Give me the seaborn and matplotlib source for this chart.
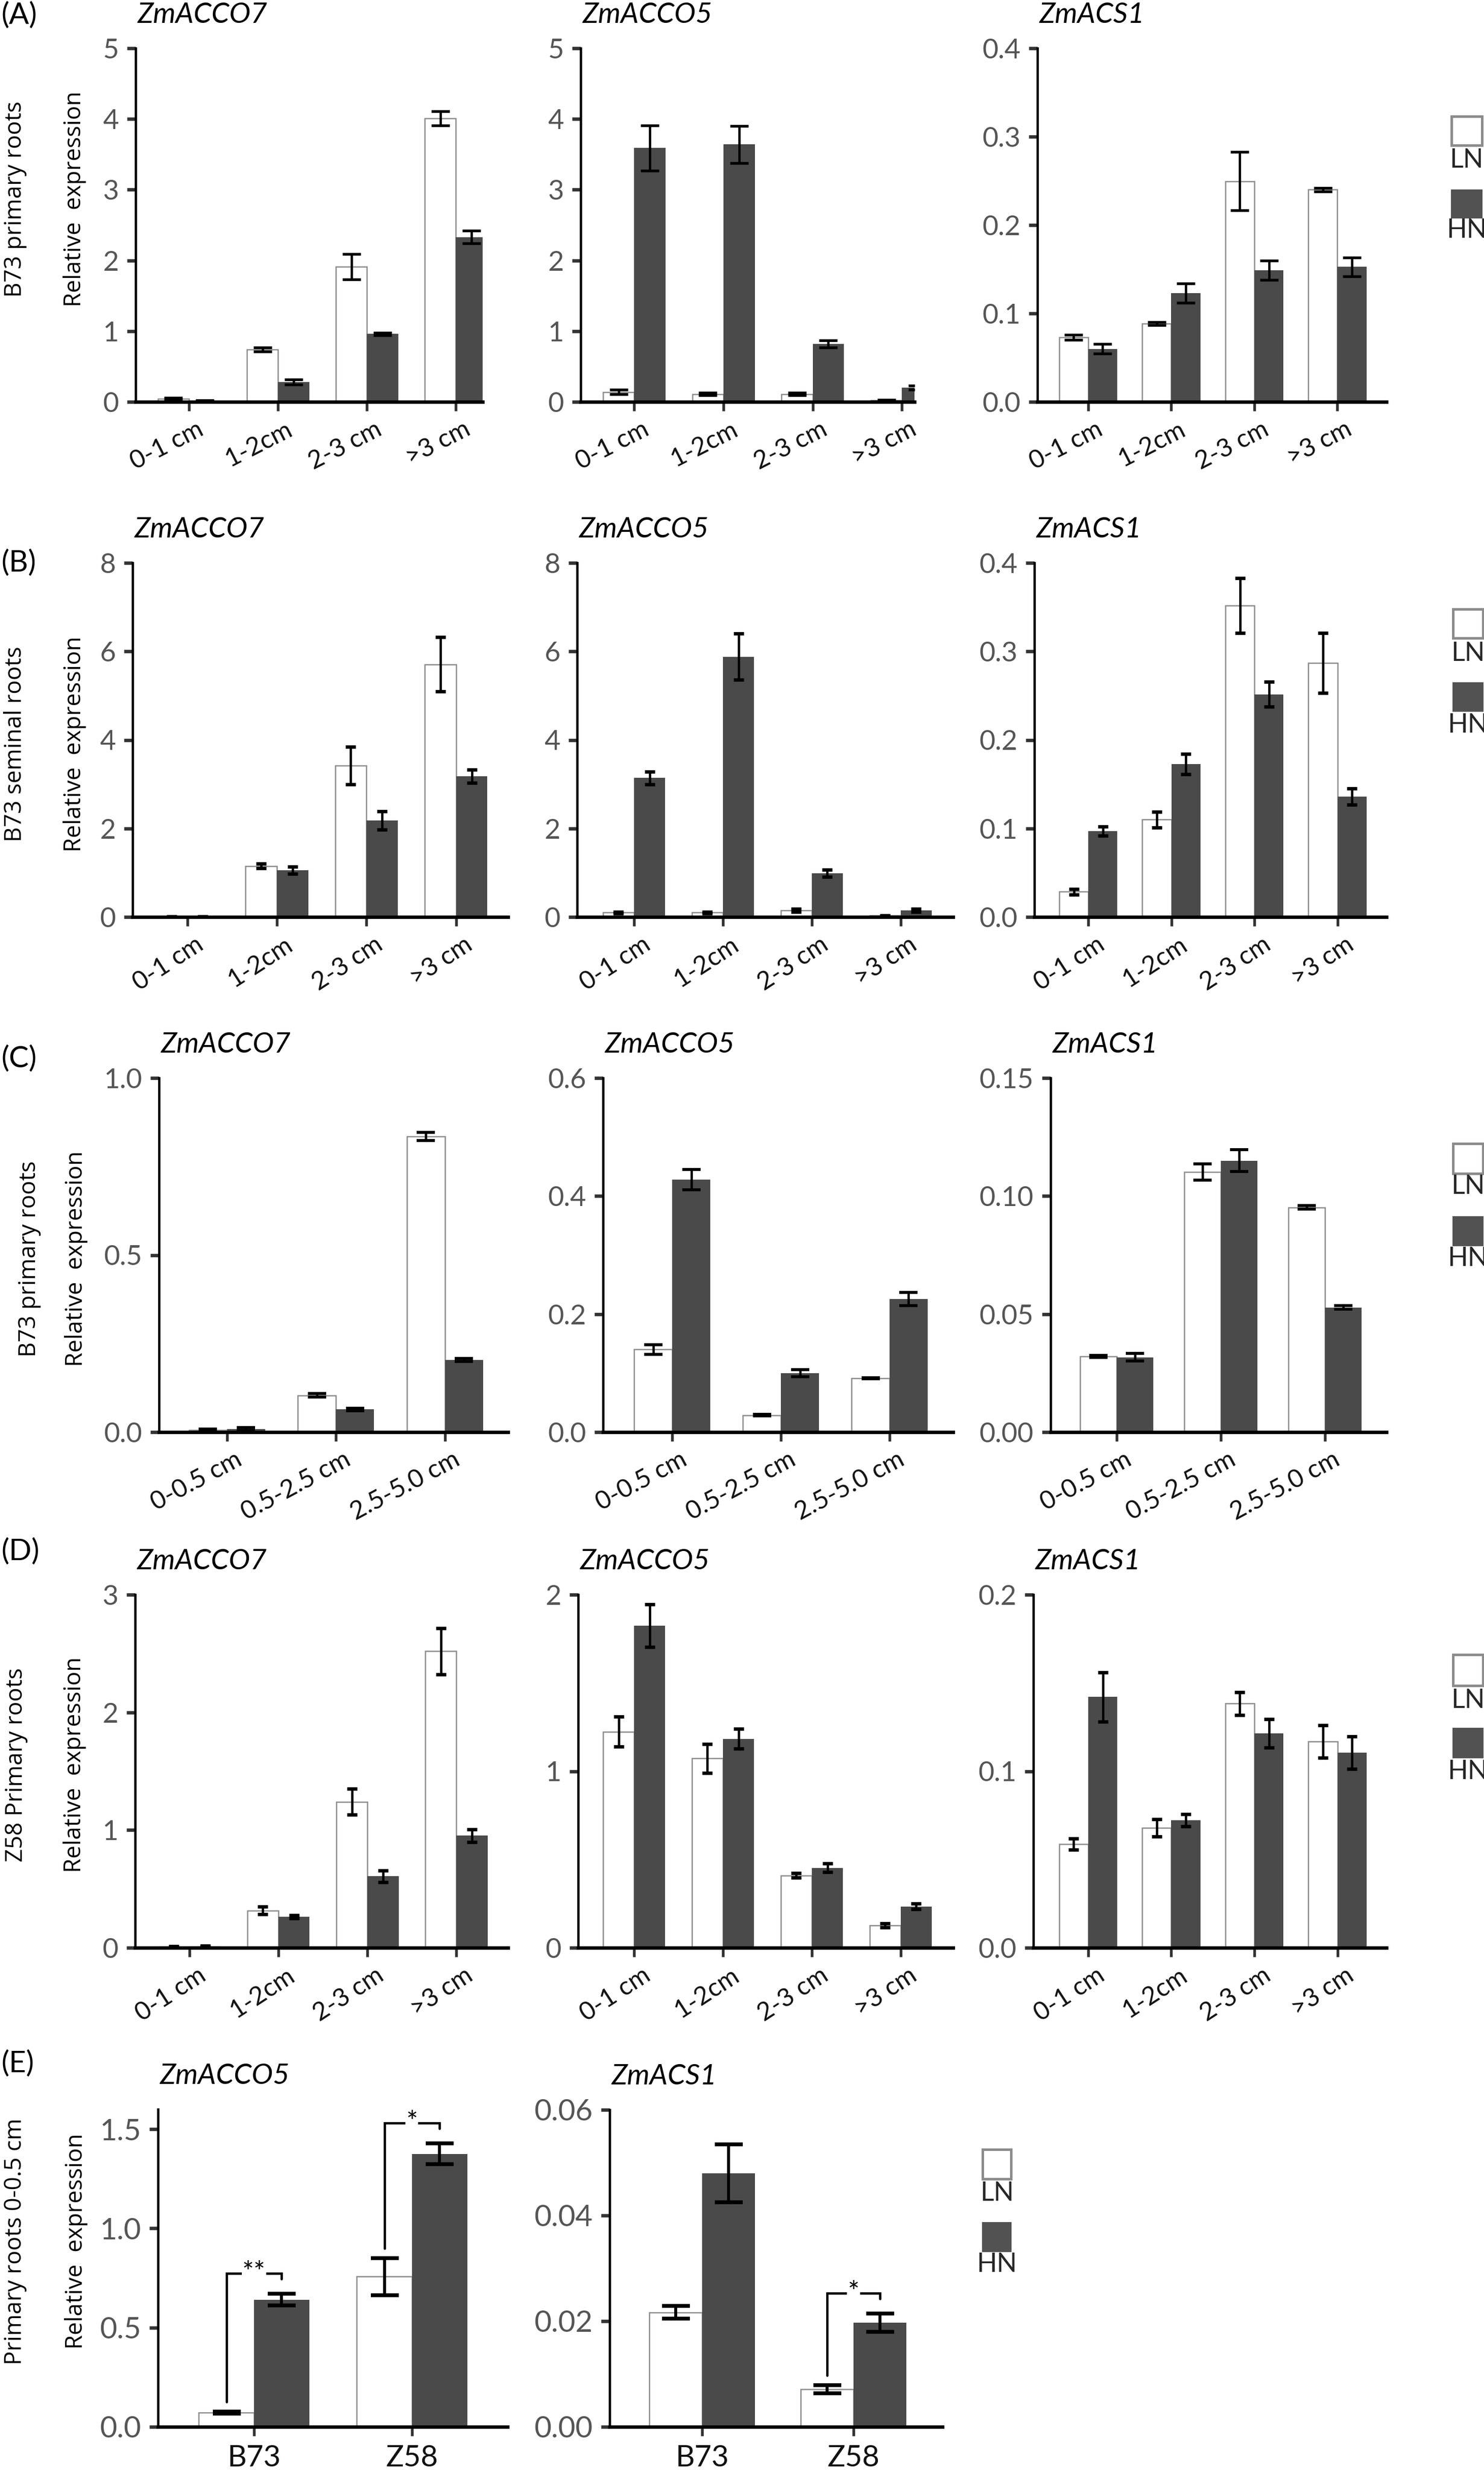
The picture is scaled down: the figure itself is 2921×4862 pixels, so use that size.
import numpy as np
import pandas as pd
import matplotlib
matplotlib.use('Agg')
import matplotlib.pyplot as plt
import matplotlib.transforms as mtrans
from matplotlib.patches import Rectangle
import seaborn as sns

# ---------------- data ----------------
groups = ['LN', 'HN']
cats_cm = ['0-1 cm', '1-2cm', '2-3 cm', '>3 cm']
cats_c = ['0-0.5 cm', '0.5-2.5 cm', '2.5-5.0 cm']
cats_e = ['B73', 'Z58']

# (A) B73 primary roots
a7_ln = [0.04, 0.74, 1.91, 4.01]; a7_ln_err = [0.02, 0.03, 0.18, 0.10]
a7_hn = [0.015, 0.28, 0.96, 2.33]; a7_hn_err = [0.01, 0.035, 0.02, 0.09]
a5_ln = [0.14, 0.11, 0.11, 0.02]; a5_ln_err = [0.03, 0.02, 0.02, 0.01]
a5_hn = [3.59, 3.64, 0.82, 0.20]; a5_hn_err = [0.32, 0.26, 0.05, 0.03]
as_ln = [0.073, 0.0885, 0.2495, 0.240]; as_ln_err = [0.003, 0.002, 0.033, 0.002]
as_hn = [0.060, 0.123, 0.149, 0.1526]; as_hn_err = [0.0056, 0.011, 0.011, 0.0105]

# (B) B73 seminal roots
b7_ln = [0.005, 1.15, 3.42, 5.71]; b7_ln_err = [0.003, 0.05, 0.42, 0.61]
b7_hn = [0.01, 1.06, 2.18, 3.18]; b7_hn_err = [0.005, 0.08, 0.21, 0.15]
b5_ln = [0.10, 0.10, 0.15, 0.03]; b5_ln_err = [0.02, 0.02, 0.03, 0.01]
b5_hn = [3.14, 5.88, 0.99, 0.15]; b5_hn_err = [0.14, 0.52, 0.08, 0.03]
bs_ln = [0.0285, 0.110, 0.352, 0.287]; bs_ln_err = [0.003, 0.009, 0.031, 0.034]
bs_hn = [0.097, 0.173, 0.2516, 0.136]; bs_hn_err = [0.005, 0.0115, 0.014, 0.0094]

# (C) B73 primary roots, finer zones
c7_ln = [0.006, 0.104, 0.835]; c7_ln_err = [0.003, 0.005, 0.012]
c7_hn = [0.009, 0.064, 0.2035]; c7_hn_err = [0.004, 0.004, 0.004]
c5_ln = [0.140, 0.0287, 0.091]; c5_ln_err = [0.008, 0.001, 0.001]
c5_hn = [0.428, 0.100, 0.2254]; c5_hn_err = [0.017, 0.006, 0.011]
cs_ln = [0.0321, 0.1102, 0.0952]; cs_ln_err = [0.0005, 0.0035, 0.0008]
cs_hn = [0.0317, 0.115, 0.0528]; cs_hn_err = [0.0016, 0.0047, 0.0008]

# (D) Z58 primary roots
d7_ln = [0.01, 0.317, 1.24, 2.52]; d7_ln_err = [0.005, 0.033, 0.11, 0.197]
d7_hn = [0.013, 0.264, 0.607, 0.952]; d7_hn_err = [0.005, 0.013, 0.05, 0.052]
d5_ln = [1.224, 1.072, 0.41, 0.127]; d5_ln_err = [0.085, 0.083, 0.012, 0.011]
d5_hn = [1.824, 1.184, 0.453, 0.234]; d5_hn_err = [0.12, 0.055, 0.024, 0.015]
ds_ln = [0.0586, 0.0678, 0.1383, 0.1168]; ds_ln_err = [0.0032, 0.0049, 0.0065, 0.0092]
ds_hn = [0.1421, 0.0722, 0.1214, 0.1105]; ds_hn_err = [0.0139, 0.0035, 0.0081, 0.0091]

# (E) Primary roots 0-0.5 cm
e5_ln = [0.072, 0.757]; e5_ln_err = [0.005, 0.093]
e5_hn = [0.641, 1.376]; e5_hn_err = [0.029, 0.052]
es_ln = [0.02168, 0.00714]; es_ln_err = [0.0012, 0.00076]
es_hn = [0.048, 0.0197]; es_hn_err = [0.00546, 0.0017]
e5_sig = ['**', '*']
es_sig = ['', '*']

# y ticks
yt_5 = [0, 1, 2, 3, 4, 5]; yl_5 = ['0', '1', '2', '3', '4', '5']
yt_04 = [0, 0.1, 0.2, 0.3, 0.4]; yl_04 = ['0.0', '0.1', '0.2', '0.3', '0.4']
yt_8 = [0, 2, 4, 6, 8]; yl_8 = ['0', '2', '4', '6', '8']
yt_c7 = [0, 0.5, 1.0]; yl_c7 = ['0.0', '0.5', '1.0']
yt_c5 = [0, 0.2, 0.4, 0.6]; yl_c5 = ['0.0', '0.2', '0.4', '0.6']
yt_cs = [0, 0.05, 0.10, 0.15]; yl_cs = ['0.00', '0.05', '0.10', '0.15']
yt_d7 = [0, 1, 2, 3]; yl_d7 = ['0', '1', '2', '3']
yt_d5 = [0, 1, 2]; yl_d5 = ['0', '1', '2']
yt_ds = [0, 0.1, 0.2]; yl_ds = ['0.0', '0.1', '0.2']
yt_e5 = [0, 0.5, 1.0, 1.5]; yl_e5 = ['0.0', '0.5', '1.0', '1.5']
yt_es = [0, 0.02, 0.04, 0.06]; yl_es = ['0.00', '0.02', '0.04', '0.06']

# ---------------- style ----------------
W, H, DPI = 2921, 4862, 300
sns.set_theme(style='white')
plt.rcParams['font.family'] = ['Lato', 'DejaVu Sans']
plt.rcParams['axes.unicode_minus'] = False

LN_COLOR = '#ffffff'
HN_COLOR = '#4a4a4a'
EDGE = '#8c8c8c'

fig = plt.figure(figsize=(W / DPI, H / DPI), dpi=DPI)
fig.patch.set_facecolor('white')


def add_ax(x0, x1, ytop, ybot):
    return fig.add_axes([x0 / W, 1 - ybot / H, (x1 - x0) / W, (ybot - ytop) / H])


def panel(box, cats, ln, ln_err, hn, hn_err, xlim, yticks, ylabels, ytop,
          title, rot=27, capsize=4.4, elw=1.1, capthick=1.3, xsize=12,
          ysize=13, xpad=3, dx=0.05, sig=None):
    ax = add_ax(*box)
    df = pd.DataFrame({'cat': cats * 2,
                       'grp': ['LN'] * len(cats) + ['HN'] * len(cats),
                       'val': list(ln) + list(hn)})
    sns.barplot(data=df, x='cat', y='val', hue='grp', order=cats,
                hue_order=groups, palette={'LN': LN_COLOR, 'HN': HN_COLOR},
                width=0.7, errorbar=None, legend=False, saturation=1, ax=ax)
    errs = [ln_err, hn_err]
    tops = {}
    for p in ax.patches:
        cx = p.get_x() + p.get_width() / 2
        i = int(round(cx))
        g = 0 if cx < i else 1
        h = p.get_height()
        if g == 0:
            p.set_edgecolor(EDGE)
            p.set_linewidth(0.6)
        else:
            p.set_edgecolor(HN_COLOR)
            p.set_linewidth(0)
        e = errs[g][i]
        ax.errorbar(cx, h, yerr=e, fmt='none', ecolor='black', elinewidth=elw,
                    capsize=capsize, capthick=capthick, zorder=4)
        tops[(i, g)] = (cx, h, e)
    ax.set_xlim(*xlim)
    ax.set_ylim(0, ytop)
    ax.set_yticks(yticks)
    ax.set_yticklabels(ylabels)
    ax.set_xlabel('')
    ax.set_ylabel('')
    sns.despine(ax=ax)
    ax.spines['left'].set_linewidth(1.1)
    ax.spines['left'].set_color('black')
    ax.spines['bottom'].set_linewidth(1.6)
    ax.spines['bottom'].set_color('black')
    ax.tick_params(axis='y', left=True, length=4.0, width=1.6, color='#333333',
                   pad=4, labelsize=ysize, labelcolor='#555555')
    ax.tick_params(axis='x', bottom=True, length=4.4, width=1.3, color='#333333',
                   pad=xpad, labelsize=xsize, labelcolor='#111111')
    ax.set_xticks(range(len(cats)))
    if rot:
        ax.set_xticklabels(cats, rotation=rot, ha='right', rotation_mode='anchor')
        off = mtrans.ScaledTranslation(dx, 0, fig.dpi_scale_trans)
        for lab in ax.get_xticklabels():
            lab.set_transform(lab.get_transform() + off)
    else:
        ax.set_xticklabels(cats)
    ax.grid(False)
    ax.annotate(title, xy=(0, 1), xycoords='axes fraction', xytext=(0.8, 15.8),
                textcoords='offset points', ha='left', va='center',
                fontsize=13.5, fontstyle='italic', color='black')
    if sig is not None:
        rng = ytop
        for i, s in enumerate(sig):
            if not s:
                continue
            lx, lh, le = tops[(i, 0)]
            hx, hh, he = tops[(i, 1)]
            y0 = lh + le + 0.03 * rng
            yt = hh + he + 0.065 * rng
            y1 = yt - 0.018 * rng
            ax.plot([lx, lx, hx, hx], [y0, yt, yt, y1], color='black', lw=1.1,
                    solid_joinstyle='miter', zorder=5, clip_on=False)
            ax.text((lx + hx) / 2, yt, s, ha='center', va='center', fontsize=13,
                    color='black', zorder=6,
                    bbox=dict(facecolor='white', edgecolor='none', pad=0.3))
    return ax


# ---------------- rows ----------------
# Row A
panel((267, 950, 95, 791), cats_cm, a7_ln, a7_ln_err, a7_hn, a7_hn_err,
      (-0.6, 3.30), yt_5, yl_5, 5, 'ZmACCO7')
panel((1143, 1800, 95, 791), cats_cm, a5_ln, a5_ln_err, a5_hn, a5_hn_err,
      (-0.6, 3.14), yt_5, yl_5, 5, 'ZmACCO5')
panel((2042, 2729, 95, 791), cats_cm, as_ln, as_ln_err, as_hn, as_hn_err,
      (-0.61, 3.59), yt_04, yl_04, 0.4, 'ZmACS1')

# Row B
kwB = dict(rot=33, capsize=2.4, elw=1.1, capthick=1.6)
panel((261, 1000, 1108, 1805), cats_cm, b7_ln, b7_ln_err, b7_hn, b7_hn_err,
      (-0.61, 3.58), yt_8, yl_8, 8, 'ZmACCO7', **kwB)
panel((1136, 1876, 1108, 1805), cats_cm, b5_ln, b5_ln_err, b5_hn, b5_hn_err,
      (-0.64, 3.59), yt_8, yl_8, 8, 'ZmACCO5', **kwB)
panel((2036, 2729, 1108, 1805), cats_cm, bs_ln, bs_ln_err, bs_hn, bs_hn_err,
      (-0.65, 3.59), yt_04, yl_04, 0.4, 'ZmACS1', **kwB)

# Row C
kwC = dict(rot=28, capsize=4.4, elw=1.1, capthick=1.4)
panel((313, 1000, 2122, 2819), cats_c, c7_ln, c7_ln_err, c7_hn, c7_hn_err,
      (-0.625, 2.58), yt_c7, yl_c7, 1.0, 'ZmACCO7', **kwC)
panel((1187, 1876, 2122, 2819), cats_c, c5_ln, c5_ln_err, c5_hn, c5_hn_err,
      (-0.636, 2.584), yt_c5, yl_c5, 0.6, 'ZmACCO5', **kwC)
panel((2068, 2729, 2122, 2819), cats_c, cs_ln, cs_ln_err, cs_hn, cs_hn_err,
      (-0.634, 2.59), yt_cs, yl_cs, 0.15, 'ZmACS1', **kwC)

# Row D
kwD = dict(rot=33, capsize=2.4, elw=1.1, capthick=1.6)
panel((266, 1000, 3139, 3834), cats_cm, d7_ln, d7_ln_err, d7_hn, d7_hn_err,
      (-0.61, 3.58), yt_d7, yl_d7, 3, 'ZmACCO7', **kwD)
panel((1138, 1876, 3139, 3834), cats_cm, d5_ln, d5_ln_err, d5_hn, d5_hn_err,
      (-0.63, 3.59), yt_d5, yl_d5, 2, 'ZmACCO5', **kwD)
panel((2034, 2729, 3139, 3834), cats_cm, ds_ln, ds_ln_err, ds_hn, ds_hn_err,
      (-0.66, 3.59), yt_ds, yl_ds, 0.2, 'ZmACS1', **kwD)

# Row E
kwE = dict(rot=0, capsize=6.6, elw=1.4, capthick=1.8, xsize=14, ysize=14,
           xpad=4)
panel((311, 999, 4152, 4777), cats_e, e5_ln, e5_ln_err, e5_hn, e5_hn_err,
      (-0.608, 1.605), yt_e5, yl_e5, 1.6, 'ZmACCO5', sig=e5_sig, **kwE)
panel((1200, 1855, 4153, 4777), cats_e, es_ln, es_ln_err, es_hn, es_hn_err,
      (-0.611, 1.587), yt_es, yl_es, 0.06, 'ZmACS1', sig=es_sig, **kwE)

# ---------------- row labels, y labels ----------------
row_tags = ['(A)', '(B)', '(C)', '(D)', '(E)']
tag_y = [30, 1108, 2084, 3054, 4062]
for t, y in zip(row_tags, tag_y):
    fig.text(2 / W, 1 - y / H, t, ha='left', va='center', fontsize=14, color='black')

outer_labels = ['B73 primary roots', 'B73 seminal roots', 'B73 primary roots',
                'Z58 Primary roots', 'Primary roots 0-0.5 cm']
outer_x = [30, 30, 58, 32, 30]
lab_y = [392, 1465, 2478, 3474, 4412]
for t, x, y in zip(outer_labels, outer_x, lab_y):
    fig.text(x / W, 1 - y / H, t, rotation=90, ha='center', va='center',
             fontsize=11, family=['Open Sans', 'DejaVu Sans'], color='black')
inner_x = [147, 147, 150, 147, 150]
for x, y in zip(inner_x, lab_y):
    fig.text(x / W, 1 - y / H, 'Relative  expression', rotation=90, ha='center',
             va='center', fontsize=11, family=['Open Sans', 'DejaVu Sans'],
             color='black')

# ---------------- legends ----------------
leg_rows = [
    # box x0, x1, LN box top, LN box bottom, LN text y, HN top, HN bottom, HN text y
    (2857, 2917, 229, 286, 315, 374, 429, 453),
    (2860, 2919, 1199, 1256, 1286, 1344, 1400, 1428),
    (2860, 2919, 2251, 2310, 2336, 2395, 2452, 2478),
    (2860, 2919, 3257, 3318, 3348, 3402, 3460, 3487),
    (1934, 1990, 4231, 4289, 4317, 4375, 4432, 4458),
]
for x0, x1, lt, lb, ly, ht, hb, hy in leg_rows:
    fig.add_artist(Rectangle((x0 / W, 1 - lb / H), (x1 - x0) / W, (lb - lt) / H,
                             transform=fig.transFigure, facecolor=LN_COLOR,
                             edgecolor=EDGE, linewidth=1.2))
    fig.add_artist(Rectangle((x0 / W, 1 - hb / H), (x1 - x0) / W, (hb - ht) / H,
                             transform=fig.transFigure, facecolor='#525252',
                             edgecolor='#525252', linewidth=0.5))
    xc = (x0 + x1) / 2 / W
    fig.text(xc, 1 - ly / H, groups[0], ha='center', va='center', fontsize=12.5)
    fig.text(xc, 1 - hy / H, groups[1], ha='center', va='center', fontsize=12.5)

fig.savefig('out.png', dpi=DPI, facecolor='white')
